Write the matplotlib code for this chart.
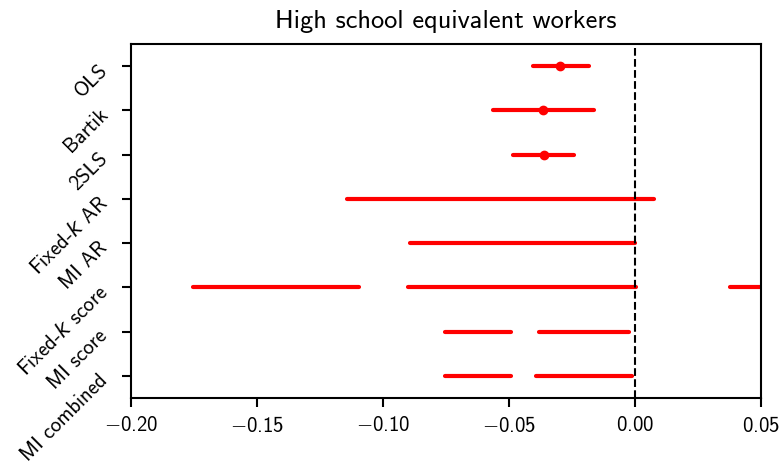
import numpy as np
import matplotlib
matplotlib.use("Agg")
import matplotlib.pyplot as plt

# confidence sets for the high school equivalent workers coefficient
methods = ['OLS', 'Bartik', '2SLS', 'Fixed-$k$ AR', 'MI AR',
           'Fixed-$k$ score', 'MI score', 'MI combined']
point_est = [-0.0298, -0.0366, -0.0362]
intervals = [
    [(-0.0405, -0.0183)],
    [(-0.0565, -0.0163)],
    [(-0.0484, -0.0243)],
    [(-0.1144, 0.0075)],
    [(-0.0893, 0.0)],
    [(-0.1752, -0.1094), (-0.0902, 0.0005), (0.0379, 0.06)],
    [(-0.0752, -0.0493), (-0.0382, -0.0024)],
    [(-0.0752, -0.0493), (-0.0393, -0.0012)],
]
xticks = [-0.2, -0.15, -0.1, -0.05, 0.0, 0.05]

plt.rcParams['font.family'] = ['cmss10', 'DejaVu Sans']
plt.rcParams['axes.formatter.use_mathtext'] = True
plt.rcParams['mathtext.fontset'] = 'custom'
plt.rcParams['mathtext.rm'] = 'cmss10'
plt.rcParams['mathtext.it'] = 'DejaVu Sans:italic'

fig, ax = plt.subplots(figsize=(7.82, 4.65), dpi=100)
fig.subplots_adjust(left=0.1675, right=0.9731, top=0.9054, bottom=0.1441)

ypos = np.arange(len(methods))
for y, segs in zip(ypos, intervals):
    for lo, hi in segs:
        ax.plot([lo, hi], [y, y], color='red', lw=3, solid_capstyle='round')
for y, est in zip(ypos, point_est):
    ax.plot(est, y, 'o', color='red', ms=6)

ax.axvline(0, color='black', ls='--', lw=1.5)

ax.set_xlim(-0.2, 0.05)
ax.set_ylim(len(methods) - 0.5, -0.5)
ax.set_xticks(xticks)
ax.set_xticklabels([f'${v:.2f}$' for v in xticks])
ax.set_yticks(ypos)
ax.set_yticklabels(methods, rotation=45, ha='right', rotation_mode='anchor')
ax.tick_params(width=1.5, length=6.5)
ax.tick_params(axis='x', labelsize=15, pad=6.5)
ax.tick_params(axis='y', labelsize=15, pad=13.5)
for s in ax.spines.values():
    s.set_linewidth(1.5)
ax.set_title('High school equivalent workers', fontsize=19, pad=11.5)

fig.savefig('out.png', dpi=100)
